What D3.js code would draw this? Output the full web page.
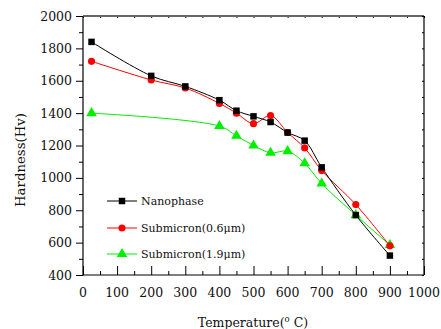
<!DOCTYPE html>
<html><head><meta charset="utf-8">
<script src="https://cdn.jsdelivr.net/npm/d3@7"></script>
<style>body{margin:0;background:#fff}svg{display:block}</style>
</head><body><div id="chart"></div>
<script>
const temps = [25, 200, 300, 400, 450, 500, 550, 600, 650, 700, 800, 900];
const nanophase = [1840, 1630, 1565, 1480, 1415, 1380, 1345, 1280, 1230, 1065, 770, 520];
const sub06 = [1720, 1605, 1555, 1460, 1400, 1335, 1385, 1280, 1185, 1045, 835, 580];
const temps19 = [25, 400, 450, 500, 550, 600, 650, 700, 800, 900];
const sub19 = [1400, 1320, 1260, 1200, 1155, 1165, 1090, 965, 770, 585];
const seriesNames = ["Nanophase", "Submicron(0.6\u03bcm)", "Submicron(1.9\u03bcm)"];
const seriesColors = ["#000000", "#ff0000", "#00ee00"];
const xTicks = [0,100,200,300,400,500,600,700,800,900,1000];
const yTicks = [400,600,800,1000,1200,1400,1600,1800,2000];

const FONT = "'DejaVu Serif', 'Liberation Serif', 'Noto Serif', serif";
const W = 441, H = 329;
const svg = d3.select("#chart").append("svg").attr("width", W).attr("height", H)
  .style("font-family", FONT);
const x = d3.scaleLinear().domain([0, 1000]).range([83, 424]);
const y = d3.scaleLinear().domain([400, 2000]).range([275, 16]);

// axes
const gx = svg.append("g").attr("transform", "translate(0,275)");
gx.call(d3.axisBottom(x).tickValues(d3.range(0, 1001, 50)).tickSize(-4).tickFormat(""));
gx.selectAll(".tick line").filter(d => d % 100 === 0).attr("y2", -9);
gx.select(".domain").remove();
gx.selectAll(".tick line").attr("stroke", "#000");
svg.append("g").selectAll("text").data(xTicks).join("text")
  .attr("x", d => x(d)).attr("y", 296.5).attr("text-anchor", "middle")
  .attr("font-family", FONT).attr("fill", "#111")
  .style("font-size", "12.5px").text(d => d);

const gy = svg.append("g").attr("transform", "translate(83,0)");
gy.call(d3.axisLeft(y).tickValues(d3.range(400, 2001, 100)).tickSize(4).tickFormat(""));
gy.selectAll(".tick line").filter(d => d % 200 === 0).attr("x2", -7);
gy.select(".domain").remove();
gy.selectAll(".tick line").attr("stroke", "#000");
svg.append("g").selectAll("text").data(yTicks).join("text")
  .attr("x", 72).attr("y", d => y(d) + 4.5).attr("text-anchor", "end")
  .attr("font-family", FONT).attr("fill", "#111")
  .style("font-size", "12.5px").text(d => d);

// top axis (grey) and right axis
const gt = svg.append("g").attr("transform", "translate(0,16)");
gt.call(d3.axisTop(x).tickValues(d3.range(0, 1001, 50)).tickSize(-2).tickFormat(""));
gt.select(".domain").remove();
gt.selectAll(".tick line").attr("stroke", "#000");
svg.append("line").attr("x1", x(0)).attr("x2", x(1000)).attr("y1", 16).attr("y2", 16)
  .attr("stroke", "#666").attr("stroke-width", 2);
const gr = svg.append("g").attr("transform", "translate(424,0)");
gr.call(d3.axisRight(y).tickValues(d3.range(400, 2001, 100)).tickSize(-2).tickFormat(""));
gr.select(".domain").remove();
gr.selectAll(".tick line").attr("stroke", "#000");
svg.append("line").attr("x1", 424).attr("x2", 424).attr("y1", 16).attr("y2", 275).attr("stroke", "#000").attr("stroke-width", 1.2);
svg.append("line").attr("x1", 83).attr("x2", 83).attr("y1", 16).attr("y2", 275.5).attr("stroke", "#000").attr("stroke-width", 1.2);
svg.append("line").attr("x1", 82.5).attr("x2", 424).attr("y1", 275).attr("y2", 275).attr("stroke", "#000").attr("stroke-width", 1.2);

// titles
svg.append("text").attr("x", 253).attr("y", 326.5).attr("text-anchor", "middle").style("font-size", "12.5px")
  .attr("font-family", FONT).attr("fill", "#111")
  .call(t => { t.append("tspan").text("Temperature(");
    t.append("tspan").attr("dy", -5).style("font-size", "8.5px").text("o");
    t.append("tspan").attr("dy", 5).text(" C)"); });
svg.append("text").attr("transform", "translate(25,160) rotate(-90)").attr("text-anchor", "middle")
  .attr("font-family", FONT).attr("fill", "#111")
  .style("font-size", "13.3px").text("Hardness(Hv)");

// series
const data = [
  temps.map((t, i) => [t, nanophase[i]]),
  temps.map((t, i) => [t, sub06[i]]),
  temps19.map((t, i) => [t, sub19[i]])
];
const line = d3.line().x(d => x(d[0])).y(d => y(d[1])).curve(d3.curveCatmullRom.alpha(0.5));
const sym = [d3.symbolSquare, d3.symbolCircle, d3.symbolTriangle];
const symSize = [42, 40, 48];
const order = [2, 1, 0];
order.forEach(k => {
  svg.append("path").attr("d", line(data[k])).attr("fill", "none").attr("stroke", seriesColors[k]).attr("stroke-width", 1);
});
order.forEach(k => {
  svg.append("g").selectAll("path").data(data[k]).join("path")
    .attr("transform", d => `translate(${x(d[0])},${y(d[1])})`)
    .attr("d", d3.symbol().type(sym[k]).size(symSize[k])).attr("fill", seriesColors[k]);
});

// legend
const legY = [201, 228, 254];
seriesNames.forEach((n, k) => {
  const g = svg.append("g");
  g.append("line").attr("x1", 107).attr("x2", 137).attr("y1", legY[k]).attr("y2", legY[k]).attr("stroke", seriesColors[k]).attr("stroke-width", 1);
  g.append("path").attr("transform", `translate(122,${legY[k]})`).attr("d", d3.symbol().type(sym[k]).size(symSize[k])).attr("fill", seriesColors[k]);
  g.append("text").attr("x", 141).attr("y", legY[k] + 4).attr("font-family", FONT).attr("fill", "#111")
    .style("font-size", "11px").text(n);
});
</script></body></html>
